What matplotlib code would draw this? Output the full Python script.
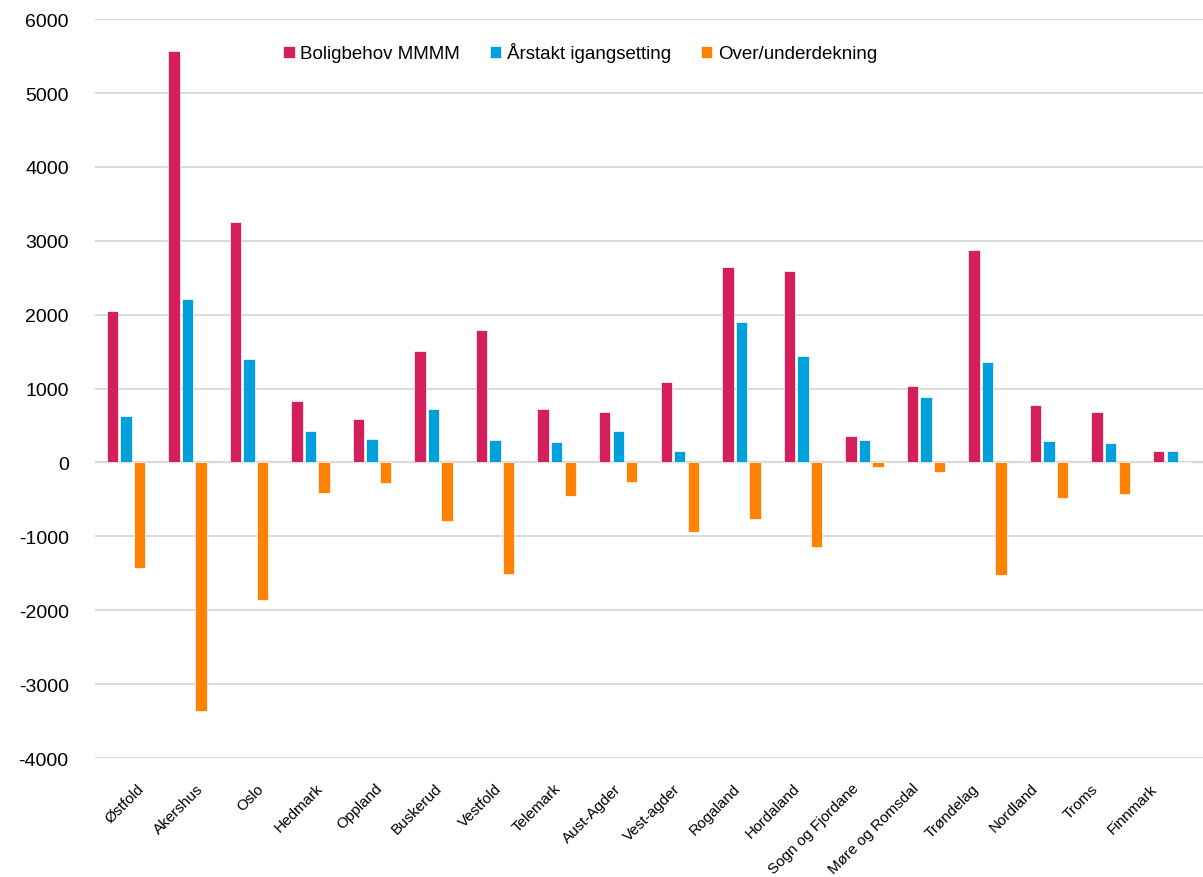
import matplotlib
matplotlib.use("Agg")
import matplotlib.pyplot as plt
import matplotlib.transforms as mtransforms
import numpy as np

counties = [
    "Østfold", "Akershus", "Oslo", "Hedmark", "Oppland", "Buskerud",
    "Vestfold", "Telemark", "Aust-Agder", "Vest-agder", "Rogaland",
    "Hordaland", "Sogn og Fjordane", "Møre og Romsdal", "Trøndelag",
    "Nordland", "Troms", "Finnmark",
]
boligbehov = [2050, 5570, 3255, 830, 590, 1510, 1800, 730, 690, 1085,
              2645, 2590, 365, 1030, 2875, 775, 680, 150]
igangsetting = [630, 2210, 1400, 420, 318, 730, 302, 275, 433, 150,
                1895, 1440, 306, 889, 1355, 290, 262, 150]
dekning = [-1432, -3370, -1860, -415, -275, -797, -1505, -460, -270, -937,
           -770, -1148, -60, -131, -1518, -487, -428, 0]

RED = "#D41F5C"
BLUE = "#00A0DC"
ORANGE = "#FF8200"

plt.rcParams["font.family"] = ["Liberation Sans", "DejaVu Sans"]
plt.rcParams["axes.unicode_minus"] = False

fig = plt.figure(figsize=(12.03, 8.78), dpi=100)
ax = fig.add_axes([0.079, 0.1355, 0.921, 0.8415])

x = np.arange(len(counties))
w = 0.185
off = 0.22
ax.bar(x - off, boligbehov, width=w, color=RED, edgecolor="white",
       linewidth=0.5, label="Boligbehov MMMM", zorder=3)
ax.bar(x, igangsetting, width=w, color=BLUE, edgecolor="white",
       linewidth=0.5, label="Årstakt igangsetting", zorder=3)
ax.bar(x + off, dekning, width=w, color=ORANGE, edgecolor="white",
       linewidth=0.5, label="Over/underdekning", zorder=3)

ax.set_xlim(-0.5, len(counties) - 0.5)
ax.set_ylim(-4000, 6000)
ax.set_yticks(np.arange(-4000, 6001, 1000))
ax.yaxis.grid(True, color="#D9D9D9", linewidth=1.4, zorder=0)
ax.set_axisbelow(True)
for s in ax.spines.values():
    s.set_visible(False)
ax.axhline(0, color="#D9D9D9", linewidth=1.6, zorder=2)

ax.tick_params(axis="y", length=0, pad=19, labelsize=14)
ax.tick_params(axis="x", length=0, pad=20, labelsize=11)
ax.set_xticks(x)
ax.set_xticklabels(counties, rotation=45, ha="right", va="center",
                   rotation_mode="anchor")
# excel spreads the rotated labels a little narrower than the categories
for i, lbl in enumerate(ax.get_xticklabels()):
    dx = (16 - 1.95 * i) / 100
    lbl.set_transform(lbl.get_transform() +
                      mtransforms.ScaledTranslation(dx, 0, fig.dpi_scale_trans))

ax.legend(loc="center", bbox_to_anchor=(0.438, 0.955), ncol=3,
          frameon=False, fontsize=13.5, handlelength=0.6, handleheight=0.6,
          handletextpad=0.3, columnspacing=1.6)

fig.savefig("out.png", dpi=100)
